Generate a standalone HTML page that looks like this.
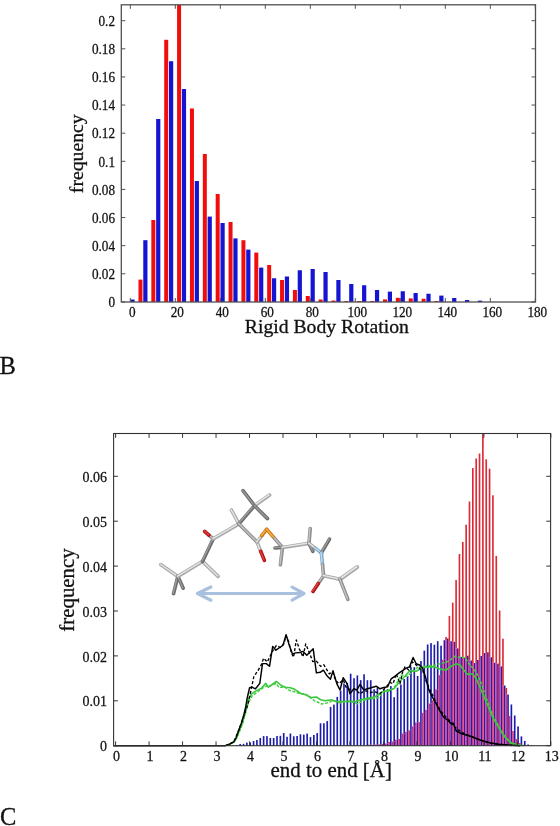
<!DOCTYPE html>
<html><head><meta charset="utf-8"><title>Figure</title>
<style>html,body{margin:0;padding:0;background:#fff;}body{width:560px;height:826px;overflow:hidden;}svg{display:block;}</style>
</head><body>
<svg width="560" height="826" viewBox="0 0 560 826"><g><rect x="138.47" y="279.60" width="4" height="22.40" fill="#f20d0d"/><rect x="151.34" y="220.00" width="4" height="82.00" fill="#f20d0d"/><rect x="164.21" y="39.80" width="4" height="262.20" fill="#f20d0d"/><rect x="177.08" y="4.80" width="4" height="297.20" fill="#f20d0d"/><rect x="189.95" y="108.50" width="4" height="193.50" fill="#f20d0d"/><rect x="202.82" y="154.00" width="4" height="148.00" fill="#f20d0d"/><rect x="215.69" y="194.00" width="4" height="108.00" fill="#f20d0d"/><rect x="228.56" y="222.00" width="4" height="80.00" fill="#f20d0d"/><rect x="241.43" y="240.20" width="4" height="61.80" fill="#f20d0d"/><rect x="254.30" y="252.60" width="4" height="49.40" fill="#f20d0d"/><rect x="267.17" y="265.00" width="4" height="37.00" fill="#f20d0d"/><rect x="280.04" y="280.00" width="4" height="22.00" fill="#f20d0d"/><rect x="292.91" y="290.00" width="4" height="12.00" fill="#f20d0d"/><rect x="305.78" y="296.00" width="4" height="6.00" fill="#f20d0d"/><rect x="318.65" y="299.50" width="4" height="2.50" fill="#f20d0d"/><rect x="331.52" y="300.50" width="4" height="1.50" fill="#f20d0d"/><rect x="344.39" y="301.00" width="4" height="1.00" fill="#f20d0d"/><rect x="357.26" y="301.00" width="4" height="1.00" fill="#f20d0d"/><rect x="370.13" y="301.00" width="4" height="1.00" fill="#f20d0d"/><rect x="383.00" y="299.40" width="4" height="2.60" fill="#f20d0d"/><rect x="395.87" y="297.80" width="4" height="4.20" fill="#f20d0d"/><rect x="408.74" y="298.40" width="4" height="3.60" fill="#f20d0d"/><rect x="421.61" y="298.75" width="4" height="3.25" fill="#f20d0d"/><rect x="434.48" y="301.00" width="4" height="1.00" fill="#f20d0d"/><rect x="130.40" y="299.50" width="4.2" height="2.50" fill="#1414d2"/><rect x="143.27" y="240.20" width="4.2" height="61.80" fill="#1414d2"/><rect x="156.14" y="119.00" width="4.2" height="183.00" fill="#1414d2"/><rect x="169.01" y="61.20" width="4.2" height="240.80" fill="#1414d2"/><rect x="181.88" y="89.00" width="4.2" height="213.00" fill="#1414d2"/><rect x="194.75" y="181.00" width="4.2" height="121.00" fill="#1414d2"/><rect x="207.62" y="216.60" width="4.2" height="85.40" fill="#1414d2"/><rect x="220.49" y="223.00" width="4.2" height="79.00" fill="#1414d2"/><rect x="233.36" y="238.40" width="4.2" height="63.60" fill="#1414d2"/><rect x="246.23" y="249.60" width="4.2" height="52.40" fill="#1414d2"/><rect x="259.10" y="267.60" width="4.2" height="34.40" fill="#1414d2"/><rect x="271.97" y="278.25" width="4.2" height="23.75" fill="#1414d2"/><rect x="284.84" y="276.50" width="4.2" height="25.50" fill="#1414d2"/><rect x="297.71" y="270.25" width="4.2" height="31.75" fill="#1414d2"/><rect x="310.58" y="269.00" width="4.2" height="33.00" fill="#1414d2"/><rect x="323.45" y="272.00" width="4.2" height="30.00" fill="#1414d2"/><rect x="336.32" y="280.00" width="4.2" height="22.00" fill="#1414d2"/><rect x="349.19" y="284.00" width="4.2" height="18.00" fill="#1414d2"/><rect x="362.06" y="285.25" width="4.2" height="16.75" fill="#1414d2"/><rect x="374.93" y="290.00" width="4.2" height="12.00" fill="#1414d2"/><rect x="387.80" y="291.60" width="4.2" height="10.40" fill="#1414d2"/><rect x="400.67" y="291.25" width="4.2" height="10.75" fill="#1414d2"/><rect x="413.54" y="293.00" width="4.2" height="9.00" fill="#1414d2"/><rect x="426.41" y="293.75" width="4.2" height="8.25" fill="#1414d2"/><rect x="439.28" y="295.60" width="4.2" height="6.40" fill="#1414d2"/><rect x="452.15" y="298.00" width="4.2" height="4.00" fill="#1414d2"/><rect x="465.02" y="300.00" width="4.2" height="2.00" fill="#1414d2"/><rect x="477.89" y="300.60" width="4.2" height="1.40" fill="#1414d2"/></g>
<g><rect x="121.3" y="4.8" width="414.2" height="297.2" fill="none" stroke="#505050" stroke-width="1.3"/><path d="M121.3 301.90h4M535.5 301.90h-4" stroke="#505050" stroke-width="1"/><path d="M121.3 273.78h4M535.5 273.78h-4" stroke="#505050" stroke-width="1"/><path d="M121.3 245.66h4M535.5 245.66h-4" stroke="#505050" stroke-width="1"/><path d="M121.3 217.54h4M535.5 217.54h-4" stroke="#505050" stroke-width="1"/><path d="M121.3 189.42h4M535.5 189.42h-4" stroke="#505050" stroke-width="1"/><path d="M121.3 161.30h4M535.5 161.30h-4" stroke="#505050" stroke-width="1"/><path d="M121.3 133.18h4M535.5 133.18h-4" stroke="#505050" stroke-width="1"/><path d="M121.3 105.06h4M535.5 105.06h-4" stroke="#505050" stroke-width="1"/><path d="M121.3 76.94h4M535.5 76.94h-4" stroke="#505050" stroke-width="1"/><path d="M121.3 48.82h4M535.5 48.82h-4" stroke="#505050" stroke-width="1"/><path d="M121.3 20.70h4M535.5 20.70h-4" stroke="#505050" stroke-width="1"/><path d="M130.30 302.0v-4M130.30 4.8v4" stroke="#505050" stroke-width="1"/><path d="M175.30 302.0v-4M175.30 4.8v4" stroke="#505050" stroke-width="1"/><path d="M220.30 302.0v-4M220.30 4.8v4" stroke="#505050" stroke-width="1"/><path d="M265.30 302.0v-4M265.30 4.8v4" stroke="#505050" stroke-width="1"/><path d="M310.30 302.0v-4M310.30 4.8v4" stroke="#505050" stroke-width="1"/><path d="M355.30 302.0v-4M355.30 4.8v4" stroke="#505050" stroke-width="1"/><path d="M400.30 302.0v-4M400.30 4.8v4" stroke="#505050" stroke-width="1"/><path d="M445.30 302.0v-4M445.30 4.8v4" stroke="#505050" stroke-width="1"/><path d="M490.30 302.0v-4M490.30 4.8v4" stroke="#505050" stroke-width="1"/><path d="M535.30 302.0v-4M535.30 4.8v4" stroke="#505050" stroke-width="1"/></g>
<g font-family='"Liberation Serif", "Times New Roman", serif' font-size="13.2" fill="#111" stroke="#111" stroke-width="0.25"><text transform="translate(115.0 307.20) scale(1 1.04)" text-anchor="end">0</text><text transform="translate(115.0 279.08) scale(1 1.04)" text-anchor="end">0.02</text><text transform="translate(115.0 250.96) scale(1 1.04)" text-anchor="end">0.04</text><text transform="translate(115.0 222.84) scale(1 1.04)" text-anchor="end">0.06</text><text transform="translate(115.0 194.72) scale(1 1.04)" text-anchor="end">0.08</text><text transform="translate(115.0 166.60) scale(1 1.04)" text-anchor="end">0.1</text><text transform="translate(115.0 138.48) scale(1 1.04)" text-anchor="end">0.12</text><text transform="translate(115.0 110.36) scale(1 1.04)" text-anchor="end">0.14</text><text transform="translate(115.0 82.24) scale(1 1.04)" text-anchor="end">0.16</text><text transform="translate(115.0 54.12) scale(1 1.04)" text-anchor="end">0.18</text><text transform="translate(115.0 26.00) scale(1 1.04)" text-anchor="end">0.2</text><text transform="translate(132.30 316.5) scale(1 1.04)" text-anchor="middle">0</text><text transform="translate(177.30 316.5) scale(1 1.04)" text-anchor="middle">20</text><text transform="translate(222.30 316.5) scale(1 1.04)" text-anchor="middle">40</text><text transform="translate(267.30 316.5) scale(1 1.04)" text-anchor="middle">60</text><text transform="translate(312.30 316.5) scale(1 1.04)" text-anchor="middle">80</text><text transform="translate(357.30 316.5) scale(1 1.04)" text-anchor="middle">100</text><text transform="translate(402.30 316.5) scale(1 1.04)" text-anchor="middle">120</text><text transform="translate(447.30 316.5) scale(1 1.04)" text-anchor="middle">140</text><text transform="translate(492.30 316.5) scale(1 1.04)" text-anchor="middle">160</text><text transform="translate(537.30 316.5) scale(1 1.04)" text-anchor="middle">180</text></g>
<text font-family='"Liberation Serif", "Times New Roman", serif' font-size="19.7" fill="#111" stroke="#111" stroke-width="0.3" transform="translate(82.8 153.8) rotate(-90)" text-anchor="middle">frequency</text>
<text font-family='"Liberation Serif", "Times New Roman", serif' font-size="19.7" fill="#111" stroke="#111" stroke-width="0.3" x="244.8" y="333.3">Rigid Body Rotation</text>
<text font-family='"Liberation Serif", "Times New Roman", serif' font-size="24.5" fill="#111" stroke="#111" stroke-width="0.3" x="-0.4" y="373.9">B</text>
<text font-family='"Liberation Serif", "Times New Roman", serif' font-size="24.5" fill="#111" stroke="#111" stroke-width="0.3" x="0" y="825">C</text>
<g><rect x="236.00" y="745.00" width="1.65" height="0.70" fill="#1c1cac"/><rect x="239.35" y="744.00" width="1.65" height="1.70" fill="#1c1cac"/><rect x="242.70" y="743.80" width="1.65" height="1.90" fill="#1c1cac"/><rect x="246.05" y="742.60" width="1.65" height="3.10" fill="#1c1cac"/><rect x="249.39" y="742.50" width="1.65" height="3.20" fill="#1c1cac"/><rect x="252.74" y="741.00" width="1.65" height="4.70" fill="#1c1cac"/><rect x="256.09" y="740.00" width="1.65" height="5.70" fill="#1c1cac"/><rect x="259.44" y="738.00" width="1.65" height="7.70" fill="#1c1cac"/><rect x="262.79" y="736.10" width="1.65" height="9.60" fill="#1c1cac"/><rect x="266.13" y="736.10" width="1.65" height="9.60" fill="#1c1cac"/><rect x="269.48" y="738.00" width="1.65" height="7.70" fill="#1c1cac"/><rect x="272.83" y="738.00" width="1.65" height="7.70" fill="#1c1cac"/><rect x="276.18" y="736.00" width="1.65" height="9.70" fill="#1c1cac"/><rect x="279.53" y="735.80" width="1.65" height="9.90" fill="#1c1cac"/><rect x="282.88" y="733.00" width="1.65" height="12.70" fill="#1c1cac"/><rect x="286.22" y="736.80" width="1.65" height="8.90" fill="#1c1cac"/><rect x="289.57" y="733.50" width="1.65" height="12.20" fill="#1c1cac"/><rect x="292.92" y="736.30" width="1.65" height="9.40" fill="#1c1cac"/><rect x="296.27" y="736.00" width="1.65" height="9.70" fill="#1c1cac"/><rect x="299.62" y="734.30" width="1.65" height="11.40" fill="#1c1cac"/><rect x="302.96" y="734.60" width="1.65" height="11.10" fill="#1c1cac"/><rect x="306.31" y="733.60" width="1.65" height="12.10" fill="#1c1cac"/><rect x="309.66" y="737.10" width="1.65" height="8.60" fill="#1c1cac"/><rect x="313.01" y="735.00" width="1.65" height="10.70" fill="#1c1cac"/><rect x="316.36" y="733.10" width="1.65" height="12.60" fill="#1c1cac"/><rect x="319.70" y="723.30" width="1.65" height="22.40" fill="#1c1cac"/><rect x="323.05" y="723.30" width="1.65" height="22.40" fill="#1c1cac"/><rect x="326.40" y="721.10" width="1.65" height="24.60" fill="#1c1cac"/><rect x="329.75" y="706.90" width="1.65" height="38.80" fill="#1c1cac"/><rect x="333.10" y="704.60" width="1.65" height="41.10" fill="#1c1cac"/><rect x="336.44" y="696.90" width="1.65" height="48.80" fill="#1c1cac"/><rect x="339.79" y="690.70" width="1.65" height="55.00" fill="#1c1cac"/><rect x="343.14" y="683.60" width="1.65" height="62.10" fill="#1c1cac"/><rect x="346.49" y="682.90" width="1.65" height="62.80" fill="#1c1cac"/><rect x="349.83" y="673.70" width="1.65" height="72.00" fill="#1c1cac"/><rect x="353.18" y="678.20" width="1.65" height="67.50" fill="#1c1cac"/><rect x="356.53" y="675.40" width="1.65" height="70.30" fill="#1c1cac"/><rect x="359.88" y="680.10" width="1.65" height="65.60" fill="#1c1cac"/><rect x="363.23" y="674.30" width="1.65" height="71.40" fill="#1c1cac"/><rect x="366.57" y="680.20" width="1.65" height="65.50" fill="#1c1cac"/><rect x="369.92" y="680.20" width="1.65" height="64.50" fill="#1c1cac"/><rect x="369.92" y="744.70" width="1.65" height="1.00" fill="#301aa8"/><rect x="373.27" y="689.30" width="1.65" height="55.40" fill="#1c1cac"/><rect x="373.27" y="744.70" width="1.65" height="1.00" fill="#301aa8"/><rect x="376.62" y="687.70" width="1.65" height="56.80" fill="#1c1cac"/><rect x="376.62" y="744.50" width="1.65" height="1.20" fill="#301aa8"/><rect x="379.97" y="694.00" width="1.65" height="50.30" fill="#1c1cac"/><rect x="379.97" y="744.30" width="1.65" height="1.40" fill="#301aa8"/><rect x="383.31" y="689.30" width="1.65" height="54.70" fill="#1c1cac"/><rect x="383.31" y="744.00" width="1.65" height="1.70" fill="#301aa8"/><rect x="386.66" y="689.30" width="1.65" height="54.20" fill="#1c1cac"/><rect x="386.66" y="743.50" width="1.65" height="2.20" fill="#301aa8"/><rect x="390.01" y="686.10" width="1.65" height="55.90" fill="#1c1cac"/><rect x="390.01" y="742.00" width="1.65" height="3.70" fill="#301aa8"/><rect x="393.36" y="697.20" width="1.65" height="44.30" fill="#1c1cac"/><rect x="393.36" y="741.50" width="1.65" height="4.20" fill="#301aa8"/><rect x="396.71" y="687.70" width="1.65" height="52.00" fill="#1c1cac"/><rect x="396.71" y="739.70" width="1.65" height="6.00" fill="#301aa8"/><rect x="400.06" y="684.60" width="1.65" height="54.30" fill="#1c1cac"/><rect x="400.06" y="738.90" width="1.65" height="6.80" fill="#301aa8"/><rect x="403.40" y="679.00" width="1.65" height="54.40" fill="#1c1cac"/><rect x="403.40" y="733.40" width="1.65" height="12.30" fill="#301aa8"/><rect x="406.75" y="675.90" width="1.65" height="55.90" fill="#1c1cac"/><rect x="406.75" y="731.80" width="1.65" height="13.90" fill="#301aa8"/><rect x="410.10" y="667.20" width="1.65" height="63.00" fill="#1c1cac"/><rect x="410.10" y="730.20" width="1.65" height="15.50" fill="#301aa8"/><rect x="413.45" y="667.20" width="1.65" height="59.10" fill="#1c1cac"/><rect x="413.45" y="726.30" width="1.65" height="19.40" fill="#301aa8"/><rect x="416.80" y="675.90" width="1.65" height="46.50" fill="#1c1cac"/><rect x="416.80" y="722.40" width="1.65" height="23.30" fill="#301aa8"/><rect x="420.14" y="661.00" width="1.65" height="61.00" fill="#1c1cac"/><rect x="420.14" y="722.00" width="1.65" height="23.70" fill="#301aa8"/><rect x="423.49" y="650.70" width="1.65" height="62.20" fill="#1c1cac"/><rect x="423.49" y="712.90" width="1.65" height="32.80" fill="#301aa8"/><rect x="426.84" y="644.50" width="1.65" height="65.30" fill="#1c1cac"/><rect x="426.84" y="709.80" width="1.65" height="35.90" fill="#301aa8"/><rect x="430.19" y="643.10" width="1.65" height="60.40" fill="#1c1cac"/><rect x="430.19" y="703.50" width="1.65" height="42.20" fill="#301aa8"/><rect x="433.54" y="644.70" width="1.65" height="55.60" fill="#1c1cac"/><rect x="433.54" y="700.30" width="1.65" height="45.40" fill="#301aa8"/><rect x="436.88" y="641.20" width="1.65" height="48.10" fill="#1c1cac"/><rect x="436.88" y="689.30" width="1.65" height="56.40" fill="#301aa8"/><rect x="440.23" y="645.70" width="1.65" height="29.40" fill="#1c1cac"/><rect x="440.23" y="675.10" width="1.65" height="70.60" fill="#301aa8"/><rect x="443.58" y="640.20" width="1.65" height="19.50" fill="#1c1cac"/><rect x="443.58" y="659.70" width="1.65" height="86.00" fill="#301aa8"/><rect x="446.93" y="638.50" width="1.65" height="107.20" fill="#301aa8"/><rect x="450.28" y="641.20" width="1.65" height="104.50" fill="#301aa8"/><rect x="453.62" y="641.80" width="1.65" height="103.90" fill="#301aa8"/><rect x="456.97" y="648.40" width="1.65" height="97.30" fill="#301aa8"/><rect x="460.32" y="656.90" width="1.65" height="88.80" fill="#301aa8"/><rect x="463.67" y="658.00" width="1.65" height="87.70" fill="#301aa8"/><rect x="467.01" y="655.70" width="1.65" height="90.00" fill="#301aa8"/><rect x="470.36" y="660.50" width="1.65" height="85.20" fill="#301aa8"/><rect x="473.71" y="663.00" width="1.65" height="82.70" fill="#301aa8"/><rect x="477.06" y="660.00" width="1.65" height="85.70" fill="#301aa8"/><rect x="480.41" y="656.00" width="1.65" height="89.70" fill="#301aa8"/><rect x="483.75" y="653.00" width="1.65" height="92.70" fill="#301aa8"/><rect x="487.10" y="652.30" width="1.65" height="93.40" fill="#301aa8"/><rect x="490.45" y="657.30" width="1.65" height="88.40" fill="#301aa8"/><rect x="493.80" y="662.70" width="1.65" height="83.00" fill="#301aa8"/><rect x="497.15" y="663.60" width="1.65" height="82.10" fill="#301aa8"/><rect x="500.50" y="666.40" width="1.65" height="79.30" fill="#301aa8"/><rect x="503.84" y="685.50" width="1.65" height="2.50" fill="#1c1cac"/><rect x="503.84" y="688.00" width="1.65" height="57.70" fill="#301aa8"/><rect x="507.19" y="694.50" width="1.65" height="21.50" fill="#1c1cac"/><rect x="507.19" y="716.00" width="1.65" height="29.70" fill="#301aa8"/><rect x="510.54" y="704.50" width="1.65" height="26.50" fill="#1c1cac"/><rect x="510.54" y="731.00" width="1.65" height="14.70" fill="#301aa8"/><rect x="513.89" y="715.50" width="1.65" height="23.50" fill="#1c1cac"/><rect x="513.89" y="739.00" width="1.65" height="6.70" fill="#301aa8"/><rect x="517.23" y="726.40" width="1.65" height="16.60" fill="#1c1cac"/><rect x="517.23" y="743.00" width="1.65" height="2.70" fill="#301aa8"/><rect x="520.58" y="736.40" width="1.65" height="9.30" fill="#1c1cac"/><rect x="523.93" y="740.90" width="1.65" height="4.80" fill="#1c1cac"/><rect x="527.28" y="744.50" width="1.65" height="1.20" fill="#1c1cac"/><rect x="530.63" y="745.20" width="1.65" height="0.50" fill="#1c1cac"/></g>
<g><rect x="368.22" y="744.70" width="1.65" height="1.00" fill="#d2357f"/><rect x="371.57" y="744.70" width="1.65" height="1.00" fill="#d2357f"/><rect x="374.92" y="744.50" width="1.65" height="1.20" fill="#d2357f"/><rect x="378.27" y="744.30" width="1.65" height="1.40" fill="#d2357f"/><rect x="381.61" y="744.00" width="1.65" height="1.70" fill="#d2357f"/><rect x="384.96" y="743.50" width="1.65" height="2.20" fill="#d2357f"/><rect x="388.31" y="742.00" width="1.65" height="3.70" fill="#d2357f"/><rect x="391.66" y="741.50" width="1.65" height="4.20" fill="#d2357f"/><rect x="395.01" y="739.70" width="1.65" height="6.00" fill="#d2357f"/><rect x="398.35" y="738.90" width="1.65" height="6.80" fill="#d2357f"/><rect x="401.70" y="733.40" width="1.65" height="12.30" fill="#d2357f"/><rect x="405.05" y="731.80" width="1.65" height="13.90" fill="#d2357f"/><rect x="408.40" y="730.20" width="1.65" height="15.50" fill="#d2357f"/><rect x="411.75" y="726.30" width="1.65" height="19.40" fill="#d2357f"/><rect x="415.09" y="722.40" width="1.65" height="23.30" fill="#d2357f"/><rect x="418.44" y="722.00" width="1.65" height="23.70" fill="#d2357f"/><rect x="421.79" y="712.90" width="1.65" height="32.80" fill="#d2357f"/><rect x="425.14" y="709.80" width="1.65" height="35.90" fill="#d2357f"/><rect x="428.49" y="703.50" width="1.65" height="42.20" fill="#d2357f"/><rect x="431.83" y="700.30" width="1.65" height="45.40" fill="#d2357f"/><rect x="435.18" y="689.30" width="1.65" height="56.40" fill="#d2357f"/><rect x="438.53" y="675.10" width="1.65" height="70.60" fill="#d2357f"/><rect x="441.88" y="659.70" width="1.65" height="86.00" fill="#d2357f"/><rect x="445.23" y="637.00" width="1.65" height="3.20" fill="#de2a36"/><rect x="445.23" y="640.20" width="1.65" height="105.50" fill="#d2357f"/><rect x="448.57" y="615.90" width="1.65" height="25.30" fill="#de2a36"/><rect x="448.57" y="641.20" width="1.65" height="104.50" fill="#d2357f"/><rect x="451.92" y="602.60" width="1.65" height="39.20" fill="#de2a36"/><rect x="451.92" y="641.80" width="1.65" height="103.90" fill="#d2357f"/><rect x="455.27" y="580.10" width="1.65" height="68.30" fill="#de2a36"/><rect x="455.27" y="648.40" width="1.65" height="97.30" fill="#d2357f"/><rect x="458.62" y="554.00" width="1.65" height="102.90" fill="#de2a36"/><rect x="458.62" y="656.90" width="1.65" height="88.80" fill="#d2357f"/><rect x="461.97" y="542.00" width="1.65" height="116.00" fill="#de2a36"/><rect x="461.97" y="658.00" width="1.65" height="87.70" fill="#d2357f"/><rect x="465.31" y="524.70" width="1.65" height="133.30" fill="#de2a36"/><rect x="465.31" y="658.00" width="1.65" height="87.70" fill="#d2357f"/><rect x="468.66" y="501.50" width="1.65" height="159.00" fill="#de2a36"/><rect x="468.66" y="660.50" width="1.65" height="85.20" fill="#d2357f"/><rect x="472.01" y="468.10" width="1.65" height="194.90" fill="#de2a36"/><rect x="472.01" y="663.00" width="1.65" height="82.70" fill="#d2357f"/><rect x="475.36" y="458.50" width="1.65" height="204.50" fill="#de2a36"/><rect x="475.36" y="663.00" width="1.65" height="82.70" fill="#d2357f"/><rect x="478.71" y="453.50" width="1.65" height="206.50" fill="#de2a36"/><rect x="478.71" y="660.00" width="1.65" height="85.70" fill="#d2357f"/><rect x="482.06" y="433.50" width="1.65" height="222.50" fill="#de2a36"/><rect x="482.06" y="656.00" width="1.65" height="89.70" fill="#d2357f"/><rect x="485.40" y="459.30" width="1.65" height="193.70" fill="#de2a36"/><rect x="485.40" y="653.00" width="1.65" height="92.70" fill="#d2357f"/><rect x="488.75" y="468.70" width="1.65" height="188.60" fill="#de2a36"/><rect x="488.75" y="657.30" width="1.65" height="88.40" fill="#d2357f"/><rect x="492.10" y="495.30" width="1.65" height="167.40" fill="#de2a36"/><rect x="492.10" y="662.70" width="1.65" height="83.00" fill="#d2357f"/><rect x="495.45" y="555.90" width="1.65" height="107.70" fill="#de2a36"/><rect x="495.45" y="663.60" width="1.65" height="82.10" fill="#d2357f"/><rect x="498.80" y="610.50" width="1.65" height="55.90" fill="#de2a36"/><rect x="498.80" y="666.40" width="1.65" height="79.30" fill="#d2357f"/><rect x="502.14" y="638.70" width="1.65" height="46.80" fill="#de2a36"/><rect x="502.14" y="685.50" width="1.65" height="60.20" fill="#d2357f"/><rect x="505.49" y="688.00" width="1.65" height="6.50" fill="#de2a36"/><rect x="505.49" y="694.50" width="1.65" height="51.20" fill="#d2357f"/><rect x="508.84" y="716.00" width="1.65" height="29.70" fill="#d2357f"/><rect x="512.19" y="731.00" width="1.65" height="14.70" fill="#d2357f"/><rect x="515.53" y="739.00" width="1.65" height="6.70" fill="#d2357f"/><rect x="518.88" y="743.00" width="1.65" height="2.70" fill="#d2357f"/></g>
<polyline points="228.5,745.2 230.6,743.8 234.3,741.9 236.9,737.5 240.1,730.0 242.6,723.5 245.1,715.0 247.0,707.5 248.6,702.0 252.3,695.7 258.2,691.5 264.7,686.6 271.1,685.6 276.4,683.4 278.6,687.2 285.0,687.2 289.3,690.4 293.6,691.5 300.0,693.6 305.7,694.3 314.3,700.7 321.8,704.0 327.2,702.9 333.6,700.7 340.0,702.9 350.0,700.6 357.5,703.8 365.0,700.0 372.5,698.8 378.8,697.5 383.8,691.2 390.0,691.2 395.0,686.2 401.2,675.0 407.5,676.2 412.5,671.2 417.5,667.5 425.0,666.2 435.0,665.0 442.5,663.1 448.8,661.2 455.0,656.2 460.0,657.5 465.0,657.5 468.8,663.8 473.8,668.8 477.5,675.0 480.4,681.0 487.0,700.0 493.0,716.0 499.0,727.0 505.0,737.0 512.0,743.5 520.0,745.3" fill="none" stroke="#44d044" stroke-width="1.5" stroke-dasharray="3 1.5" stroke-linejoin="round"/>
<polyline points="228.0,745.2 230.4,743.8 234.1,741.9 236.7,737.5 239.6,730.0 242.1,723.5 244.6,715.0 246.4,707.5 247.9,700.0 251.8,693.6 256.1,690.9 261.4,688.2 265.7,683.4 268.4,687.2 272.2,684.5 276.4,681.3 280.7,685.0 285.0,687.2 290.4,687.7 294.7,689.3 300.4,693.2 305.7,694.8 311.1,697.5 316.4,697.0 320.7,699.7 325.0,700.7 331.4,699.7 336.8,701.8 343.2,701.3 348.6,701.8 356.2,701.2 362.5,699.4 368.8,698.1 375.0,696.9 381.2,692.5 387.5,690.6 393.8,688.8 400.0,681.2 405.0,676.2 410.0,670.5 416.2,671.2 422.5,667.5 428.8,666.9 435.0,666.9 441.2,669.4 446.2,670.0 451.2,666.2 456.2,663.8 460.0,665.0 463.8,670.0 467.5,674.4 472.5,673.8 476.2,678.8 480.0,687.5 487.6,705.3 493.0,718.0 498.5,727.0 504.0,736.0 511.2,743.4 518.5,745.2 524.0,745.5" fill="none" stroke="#3cc83c" stroke-width="1.6" stroke-linejoin="round"/>
<polyline points="225.5,745.7 233.8,741.9 238.8,730.0 243.8,716.0 248.0,704.3 253.9,676.4 257.7,671.1 261.4,664.7 263.6,658.2 267.3,662.0 272.2,651.8 276.4,645.4 280.2,647.5 283.9,643.8 286.1,635.7 288.8,642.1 291.4,652.9 293.6,657.2 296.3,640.0 299.3,648.8 303.0,656.8 305.7,643.9 309.5,653.0 312.7,661.6 316.4,661.1 320.7,666.4 323.9,664.8 329.3,673.9 332.5,671.8 335.7,680.4 338.9,683.6 343.2,679.8 346.4,687.9 350.0,689.5 355.0,689.4 360.0,693.8 365.0,690.6 370.0,692.5 375.0,691.9 380.0,693.8 385.0,688.1 390.0,682.5 393.1,683.8 396.2,673.8 400.0,683.8 402.5,672.5 405.0,666.9 408.8,670.0 412.5,661.9 416.2,665.0 420.0,668.8 422.5,670.0 426.2,681.2 430.0,690.0 435.0,700.0 440.0,710.0 445.0,716.2 450.0,721.2 453.8,726.2 460.0,731.0 465.0,734.0 472.5,737.0 480.0,740.0 490.0,743.0 500.0,744.5 512.0,745.5" fill="none" stroke="#000" stroke-width="1.35" stroke-dasharray="3 2" stroke-linejoin="round"/>
<polyline points="113.6,745.7 225.5,745.7 230.0,743.8 233.8,741.9 236.2,737.5 238.8,730.0 241.2,723.8 243.8,715.0 245.6,707.5 247.2,698.0 249.6,687.7 251.8,687.2 255.5,688.8 259.8,683.4 262.5,663.6 266.3,663.6 269.5,666.3 272.7,646.4 275.9,650.2 279.7,647.5 282.9,645.4 286.1,634.6 289.3,645.4 292.5,653.9 295.7,652.9 299.8,652.5 303.0,651.4 306.8,655.2 313.2,648.8 316.4,672.9 320.2,672.3 323.4,670.2 327.2,676.1 330.4,679.3 333.0,670.7 336.8,683.6 340.0,690.0 343.2,677.7 347.0,683.6 350.0,693.8 353.8,688.8 356.9,690.0 360.0,684.4 363.8,690.0 367.5,688.8 371.9,687.5 376.2,686.2 380.0,688.8 383.8,687.5 387.5,686.9 391.2,678.8 395.0,676.2 398.8,673.1 402.5,670.6 406.2,668.1 409.4,666.9 413.1,657.5 416.2,663.8 419.4,665.0 422.5,668.1 425.6,677.5 428.8,690.0 432.5,697.5 436.2,703.8 440.0,711.2 443.8,717.5 447.5,720.0 451.2,723.8 453.1,723.1 456.2,731.0 461.2,733.5 466.2,735.0 471.2,736.5 476.2,738.5 480.0,740.0 489.4,742.8 498.5,744.3 511.2,745.2 520.0,745.7" fill="none" stroke="#000" stroke-width="1.45" stroke-linejoin="round"/>
<g><line x1="177.90" y1="576.40" x2="160.70" y2="564.60" stroke="#a8a8a8" stroke-width="3.6" stroke-linecap="round"/><line x1="177.55" y1="576.05" x2="160.35" y2="564.25" stroke="#e4e4e4" stroke-width="1.44" stroke-linecap="round"/><line x1="177.90" y1="576.40" x2="173.60" y2="593.60" stroke="#6a6a6a" stroke-width="3.6" stroke-linecap="round"/><line x1="177.55" y1="576.05" x2="173.25" y2="593.25" stroke="#9c9c9c" stroke-width="1.44" stroke-linecap="round"/><line x1="177.90" y1="576.40" x2="183.20" y2="588.20" stroke="#6a6a6a" stroke-width="3.6" stroke-linecap="round"/><line x1="177.55" y1="576.05" x2="182.85" y2="587.85" stroke="#9c9c9c" stroke-width="1.44" stroke-linecap="round"/><line x1="177.90" y1="576.40" x2="202.50" y2="561.40" stroke="#a8a8a8" stroke-width="3.6" stroke-linecap="round"/><line x1="177.55" y1="576.05" x2="202.15" y2="561.05" stroke="#e4e4e4" stroke-width="1.44" stroke-linecap="round"/><line x1="202.50" y1="561.40" x2="218.10" y2="576.40" stroke="#a8a8a8" stroke-width="3.6" stroke-linecap="round"/><line x1="202.15" y1="561.05" x2="217.75" y2="576.05" stroke="#e4e4e4" stroke-width="1.44" stroke-linecap="round"/><line x1="202.50" y1="561.40" x2="213.20" y2="538.90" stroke="#6a6a6a" stroke-width="3.6" stroke-linecap="round"/><line x1="202.15" y1="561.05" x2="212.85" y2="538.55" stroke="#9c9c9c" stroke-width="1.44" stroke-linecap="round"/><line x1="213.20" y1="538.90" x2="208.90" y2="535.15" stroke="#8c8c8c" stroke-width="3.6" stroke-linecap="round"/><line x1="212.85" y1="538.55" x2="208.55" y2="534.80" stroke="#c4c4c4" stroke-width="1.44" stroke-linecap="round"/><line x1="208.90" y1="535.15" x2="204.60" y2="531.40" stroke="#b01010" stroke-width="3.6" stroke-linecap="round"/><line x1="208.55" y1="534.80" x2="204.25" y2="531.05" stroke="#e84040" stroke-width="1.44" stroke-linecap="round"/><line x1="213.20" y1="538.90" x2="238.90" y2="523.90" stroke="#a8a8a8" stroke-width="3.6" stroke-linecap="round"/><line x1="212.85" y1="538.55" x2="238.55" y2="523.55" stroke="#e4e4e4" stroke-width="1.44" stroke-linecap="round"/><line x1="238.90" y1="523.90" x2="231.40" y2="510.00" stroke="#a8a8a8" stroke-width="3.6" stroke-linecap="round"/><line x1="238.55" y1="523.55" x2="231.05" y2="509.65" stroke="#e4e4e4" stroke-width="1.44" stroke-linecap="round"/><line x1="238.90" y1="523.90" x2="254.50" y2="505.70" stroke="#6a6a6a" stroke-width="3.6" stroke-linecap="round"/><line x1="238.55" y1="523.55" x2="254.15" y2="505.35" stroke="#9c9c9c" stroke-width="1.44" stroke-linecap="round"/><line x1="238.90" y1="523.90" x2="257.00" y2="542.10" stroke="#8c8c8c" stroke-width="3.6" stroke-linecap="round"/><line x1="238.55" y1="523.55" x2="256.65" y2="541.75" stroke="#c4c4c4" stroke-width="1.44" stroke-linecap="round"/><line x1="254.50" y1="505.70" x2="243.00" y2="490.70" stroke="#6a6a6a" stroke-width="3.6" stroke-linecap="round"/><line x1="254.15" y1="505.35" x2="242.65" y2="490.35" stroke="#9c9c9c" stroke-width="1.44" stroke-linecap="round"/><line x1="254.50" y1="505.70" x2="269.60" y2="495.00" stroke="#a8a8a8" stroke-width="3.6" stroke-linecap="round"/><line x1="254.15" y1="505.35" x2="269.25" y2="494.65" stroke="#e4e4e4" stroke-width="1.44" stroke-linecap="round"/><line x1="254.50" y1="505.70" x2="267.50" y2="518.60" stroke="#6a6a6a" stroke-width="3.6" stroke-linecap="round"/><line x1="254.15" y1="505.35" x2="267.15" y2="518.25" stroke="#9c9c9c" stroke-width="1.44" stroke-linecap="round"/><line x1="257.00" y1="542.10" x2="260.70" y2="551.25" stroke="#a8a8a8" stroke-width="3.6" stroke-linecap="round"/><line x1="256.65" y1="541.75" x2="260.35" y2="550.90" stroke="#e4e4e4" stroke-width="1.44" stroke-linecap="round"/><line x1="260.70" y1="551.25" x2="264.40" y2="560.40" stroke="#b01010" stroke-width="3.6" stroke-linecap="round"/><line x1="260.35" y1="550.90" x2="264.05" y2="560.05" stroke="#e84040" stroke-width="1.44" stroke-linecap="round"/><line x1="257.00" y1="542.10" x2="261.80" y2="535.70" stroke="#a8a8a8" stroke-width="3.6" stroke-linecap="round"/><line x1="256.65" y1="541.75" x2="261.45" y2="535.35" stroke="#e4e4e4" stroke-width="1.44" stroke-linecap="round"/><line x1="261.80" y1="535.70" x2="266.60" y2="529.30" stroke="#d07a10" stroke-width="3.6" stroke-linecap="round"/><line x1="261.45" y1="535.35" x2="266.25" y2="528.95" stroke="#f0b050" stroke-width="1.44" stroke-linecap="round"/><line x1="266.60" y1="529.30" x2="274.55" y2="538.40" stroke="#d07a10" stroke-width="3.6" stroke-linecap="round"/><line x1="266.25" y1="528.95" x2="274.20" y2="538.05" stroke="#f0b050" stroke-width="1.44" stroke-linecap="round"/><line x1="274.55" y1="538.40" x2="282.50" y2="547.50" stroke="#8c8c8c" stroke-width="3.6" stroke-linecap="round"/><line x1="274.20" y1="538.05" x2="282.15" y2="547.15" stroke="#c4c4c4" stroke-width="1.44" stroke-linecap="round"/><line x1="282.50" y1="547.50" x2="275.00" y2="548.00" stroke="#6a6a6a" stroke-width="3.6" stroke-linecap="round"/><line x1="282.15" y1="547.15" x2="274.65" y2="547.65" stroke="#9c9c9c" stroke-width="1.44" stroke-linecap="round"/><line x1="282.50" y1="547.50" x2="280.40" y2="564.60" stroke="#8c8c8c" stroke-width="3.6" stroke-linecap="round"/><line x1="282.15" y1="547.15" x2="280.05" y2="564.25" stroke="#c4c4c4" stroke-width="1.44" stroke-linecap="round"/><line x1="282.50" y1="547.50" x2="309.00" y2="543.40" stroke="#a8a8a8" stroke-width="3.6" stroke-linecap="round"/><line x1="282.15" y1="547.15" x2="308.65" y2="543.05" stroke="#e4e4e4" stroke-width="1.44" stroke-linecap="round"/><line x1="309.00" y1="543.40" x2="310.20" y2="528.50" stroke="#8c8c8c" stroke-width="3.6" stroke-linecap="round"/><line x1="308.65" y1="543.05" x2="309.85" y2="528.15" stroke="#c4c4c4" stroke-width="1.44" stroke-linecap="round"/><line x1="309.00" y1="543.40" x2="312.90" y2="551.40" stroke="#6a6a6a" stroke-width="3.6" stroke-linecap="round"/><line x1="308.65" y1="543.05" x2="312.55" y2="551.05" stroke="#9c9c9c" stroke-width="1.44" stroke-linecap="round"/><line x1="309.00" y1="543.40" x2="315.20" y2="548.15" stroke="#a8a8a8" stroke-width="3.6" stroke-linecap="round"/><line x1="308.65" y1="543.05" x2="314.85" y2="547.80" stroke="#e4e4e4" stroke-width="1.44" stroke-linecap="round"/><line x1="315.20" y1="548.15" x2="321.40" y2="552.90" stroke="#7fa8c8" stroke-width="3.6" stroke-linecap="round"/><line x1="314.85" y1="547.80" x2="321.05" y2="552.55" stroke="#c0dcf0" stroke-width="1.44" stroke-linecap="round"/><line x1="321.40" y1="552.90" x2="329.50" y2="539.10" stroke="#6a6a6a" stroke-width="3.6" stroke-linecap="round"/><line x1="321.05" y1="552.55" x2="329.15" y2="538.75" stroke="#9c9c9c" stroke-width="1.44" stroke-linecap="round"/><line x1="321.40" y1="552.90" x2="322.50" y2="564.30" stroke="#7fa8c8" stroke-width="3.6" stroke-linecap="round"/><line x1="321.05" y1="552.55" x2="322.15" y2="563.95" stroke="#c0dcf0" stroke-width="1.44" stroke-linecap="round"/><line x1="322.50" y1="564.30" x2="323.60" y2="575.70" stroke="#8c8c8c" stroke-width="3.6" stroke-linecap="round"/><line x1="322.15" y1="563.95" x2="323.25" y2="575.35" stroke="#c4c4c4" stroke-width="1.44" stroke-linecap="round"/><line x1="323.60" y1="575.70" x2="318.30" y2="583.55" stroke="#8c8c8c" stroke-width="3.6" stroke-linecap="round"/><line x1="323.25" y1="575.35" x2="317.95" y2="583.20" stroke="#c4c4c4" stroke-width="1.44" stroke-linecap="round"/><line x1="318.30" y1="583.55" x2="313.00" y2="591.40" stroke="#b01010" stroke-width="3.6" stroke-linecap="round"/><line x1="317.95" y1="583.20" x2="312.65" y2="591.05" stroke="#e84040" stroke-width="1.44" stroke-linecap="round"/><line x1="323.60" y1="575.70" x2="340.00" y2="579.30" stroke="#a8a8a8" stroke-width="3.6" stroke-linecap="round"/><line x1="323.25" y1="575.35" x2="339.65" y2="578.95" stroke="#e4e4e4" stroke-width="1.44" stroke-linecap="round"/><line x1="340.00" y1="579.30" x2="357.10" y2="567.10" stroke="#a8a8a8" stroke-width="4.2" stroke-linecap="round"/><line x1="339.65" y1="578.95" x2="356.75" y2="566.75" stroke="#e4e4e4" stroke-width="1.68" stroke-linecap="round"/><line x1="340.00" y1="579.30" x2="347.90" y2="599.30" stroke="#8c8c8c" stroke-width="3.6" stroke-linecap="round"/><line x1="339.65" y1="578.95" x2="347.55" y2="598.95" stroke="#c4c4c4" stroke-width="1.44" stroke-linecap="round"/></g>
<g stroke="#a9c0df" stroke-width="3.2" stroke-linecap="round" stroke-linejoin="round" fill="none"><path d="M198 593.5H303.5"/><path d="M210.9 587L197.5 593.5L210.9 600.2"/><path d="M292.1 587.1L304 593.5L292.1 600.1"/></g>
<g><rect x="113.6" y="433.5" width="437.0" height="312.20000000000005" fill="none" stroke="#333" stroke-width="1.1"/><path d="M113.6 745.70h4.3M550.6 745.70h-4.3" stroke="#333" stroke-width="1"/><path d="M113.6 700.80h4.3M550.6 700.80h-4.3" stroke="#333" stroke-width="1"/><path d="M113.6 655.90h4.3M550.6 655.90h-4.3" stroke="#333" stroke-width="1"/><path d="M113.6 611.00h4.3M550.6 611.00h-4.3" stroke="#333" stroke-width="1"/><path d="M113.6 566.10h4.3M550.6 566.10h-4.3" stroke="#333" stroke-width="1"/><path d="M113.6 521.20h4.3M550.6 521.20h-4.3" stroke="#333" stroke-width="1"/><path d="M113.6 476.30h4.3M550.6 476.30h-4.3" stroke="#333" stroke-width="1"/><path d="M115.60 745.7v-4.3M115.60 433.5v4.3" stroke="#333" stroke-width="1"/><path d="M149.08 745.7v-4.3M149.08 433.5v4.3" stroke="#333" stroke-width="1"/><path d="M182.56 745.7v-4.3M182.56 433.5v4.3" stroke="#333" stroke-width="1"/><path d="M216.04 745.7v-4.3M216.04 433.5v4.3" stroke="#333" stroke-width="1"/><path d="M249.52 745.7v-4.3M249.52 433.5v4.3" stroke="#333" stroke-width="1"/><path d="M283.00 745.7v-4.3M283.00 433.5v4.3" stroke="#333" stroke-width="1"/><path d="M316.48 745.7v-4.3M316.48 433.5v4.3" stroke="#333" stroke-width="1"/><path d="M349.96 745.7v-4.3M349.96 433.5v4.3" stroke="#333" stroke-width="1"/><path d="M383.44 745.7v-4.3M383.44 433.5v4.3" stroke="#333" stroke-width="1"/><path d="M416.92 745.7v-4.3M416.92 433.5v4.3" stroke="#333" stroke-width="1"/><path d="M450.40 745.7v-4.3M450.40 433.5v4.3" stroke="#333" stroke-width="1"/><path d="M483.88 745.7v-4.3M483.88 433.5v4.3" stroke="#333" stroke-width="1"/><path d="M517.36 745.7v-4.3M517.36 433.5v4.3" stroke="#333" stroke-width="1"/><path d="M550.84 745.7v-4.3M550.84 433.5v4.3" stroke="#333" stroke-width="1"/></g>
<g font-family='"Liberation Serif", "Times New Roman", serif' font-size="14" fill="#111" stroke="#111" stroke-width="0.25"><text transform="translate(107.1 751.30) scale(1 1.08)" text-anchor="end">0</text><text transform="translate(107.1 706.40) scale(1 1.08)" text-anchor="end">0.01</text><text transform="translate(107.1 661.50) scale(1 1.08)" text-anchor="end">0.02</text><text transform="translate(107.1 616.60) scale(1 1.08)" text-anchor="end">0.03</text><text transform="translate(107.1 571.70) scale(1 1.08)" text-anchor="end">0.04</text><text transform="translate(107.1 526.80) scale(1 1.08)" text-anchor="end">0.05</text><text transform="translate(107.1 481.90) scale(1 1.08)" text-anchor="end">0.06</text><text transform="translate(116.60 760.6) scale(1 1.08)" text-anchor="middle">0</text><text transform="translate(150.08 760.6) scale(1 1.08)" text-anchor="middle">1</text><text transform="translate(183.56 760.6) scale(1 1.08)" text-anchor="middle">2</text><text transform="translate(217.04 760.6) scale(1 1.08)" text-anchor="middle">3</text><text transform="translate(250.52 760.6) scale(1 1.08)" text-anchor="middle">4</text><text transform="translate(284.00 760.6) scale(1 1.08)" text-anchor="middle">5</text><text transform="translate(317.48 760.6) scale(1 1.08)" text-anchor="middle">6</text><text transform="translate(350.96 760.6) scale(1 1.08)" text-anchor="middle">7</text><text transform="translate(384.44 760.6) scale(1 1.08)" text-anchor="middle">8</text><text transform="translate(417.92 760.6) scale(1 1.08)" text-anchor="middle">9</text><text transform="translate(451.40 760.6) scale(1 1.08)" text-anchor="middle">10</text><text transform="translate(484.88 760.6) scale(1 1.08)" text-anchor="middle">11</text><text transform="translate(518.36 760.6) scale(1 1.08)" text-anchor="middle">12</text><text transform="translate(551.84 760.6) scale(1 1.08)" text-anchor="middle">13</text></g>
<text font-family='"Liberation Serif", "Times New Roman", serif' font-size="20.9" fill="#111" stroke="#111" stroke-width="0.3" transform="translate(74.0 590) rotate(-90)" text-anchor="middle">frequency</text>
<text font-family='"Liberation Serif", "Times New Roman", serif' font-size="20.9" fill="#111" stroke="#111" stroke-width="0.3" x="270.6" y="777.4">end to end [Å]</text></svg>
</body></html>
